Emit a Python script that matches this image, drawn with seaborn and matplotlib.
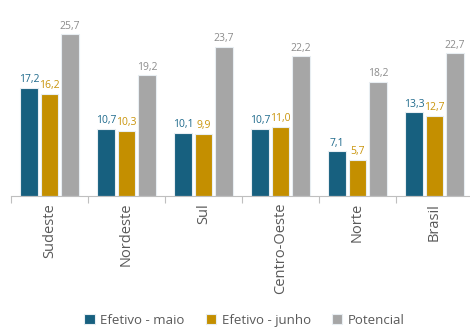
import matplotlib
matplotlib.use("Agg")
import matplotlib.pyplot as plt
import seaborn as sns
import pandas as pd

regioes = ["Sudeste", "Nordeste", "Sul", "Centro-Oeste", "Norte", "Brasil"]
efetivo_maio = [17.2, 10.7, 10.1, 10.7, 7.1, 13.3]
efetivo_junho = [16.2, 10.3, 9.9, 11.0, 5.7, 12.7]
potencial = [25.7, 19.2, 23.7, 22.2, 18.2, 22.7]
series = ["Efetivo - maio", "Efetivo - junho", "Potencial"]

bar_colors = ["#17607f", "#c48f00", "#a6a6a6"]
label_colors = ["#1f6a8c", "#c9940a", "#8c8c8c"]

rows = []
for s, vals in zip(series, [efetivo_maio, efetivo_junho, potencial]):
    for r, v in zip(regioes, vals):
        rows.append({"regiao": r, "valor": v, "serie": s})
df = pd.DataFrame(rows)

sns.set_theme(style="white")
plt.rcParams["font.family"] = ["Open Sans", "DejaVu Sans"]

fig = plt.figure(figsize=(4.7, 3.27), dpi=100)
ax = fig.add_axes([11 / 470, 131 / 327, 462 / 470, 176 / 327])

sns.barplot(data=df, x="regiao", y="valor", hue="serie", order=regioes,
            hue_order=series, palette=bar_colors, saturation=1, width=0.8, gap=0.15,
            edgecolor="#e8eef2", linewidth=0.8, ax=ax, legend=True)

for cont, col in zip(ax.containers, label_colors):
    ax.bar_label(cont, labels=[f"{v:.1f}".replace(".", ",") for v in cont.datavalues],
                 color=col, fontsize=7.5, padding=2)

ax.set_ylim(0, 28)
ax.set_xlim(-0.5, 5.5)
ax.set_xlabel("")
ax.set_ylabel("")
ax.set_yticks([])
for sp in ["top", "right", "left"]:
    ax.spines[sp].set_visible(False)
ax.spines["bottom"].set_color("#bfbfbf")
ax.spines["bottom"].set_linewidth(0.8)

ax.set_xticks(range(len(regioes)))
ax.set_xticklabels(regioes, rotation=90, fontsize=10.5, color="#595959")
ax.tick_params(axis="x", which="major", length=0, pad=5)
ax.set_xticks([i - 0.5 for i in range(len(regioes) + 1)], minor=True)
ax.tick_params(axis="x", which="minor", length=5, color="#bfbfbf", width=0.8, bottom=True)

handles, labels = ax.get_legend_handles_labels()
ax.get_legend().remove()
fig.legend(handles, labels, loc="center", bbox_to_anchor=(0.52, 0.02), ncol=3,
           frameon=False, fontsize=9.5, handlelength=0.8, handleheight=0.8,
           handletextpad=0.4, columnspacing=1.6, labelcolor="#595959")

fig.savefig("out.png", dpi=100)
